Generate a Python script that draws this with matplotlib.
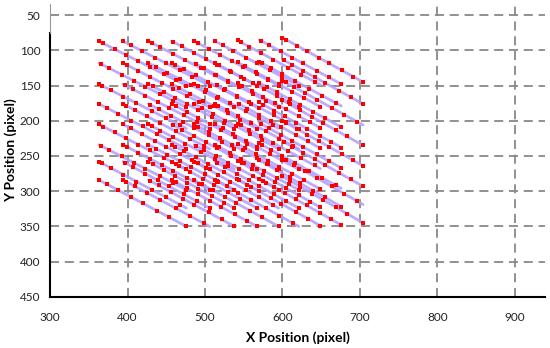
import numpy as np
import matplotlib
matplotlib.use("Agg")
import matplotlib.pyplot as plt

plt.rcParams['font.family'] = ['Lato', 'DejaVu Sans']

# start of each track column (x) and row (y), in pixels
col_x0 = [363, 394, 427, 457, 486, 513, 542, 570, 600]
col_y_shift = [0, 0, 0, 0, 0, 0, -1, -2, -5]
col_dx = [113, 112, 111, 110, 109, 108, 107, 106, 104]
row_y0 = [87, 118, 148, 176, 205, 234, 258, 284]
row_dy = [63, 63, 63, 64, 64, 64, 66, 66]

# positions of the tracked points along each track (fraction of the track)
dot_patterns = [
    [0.0, 0.05, 0.18, 0.31, 0.45, 0.58, 0.74, 0.88, 1.0],
    [0.0, 0.09, 0.22, 0.37, 0.50, 0.66, 0.80, 1.0],
    [0.0, 0.04, 0.14, 0.28, 0.43, 0.61, 0.77, 0.93],
    [0.02, 0.12, 0.26, 0.40, 0.53, 0.70, 0.85, 1.0],
]

x_ticks = [300, 400, 500, 600, 700, 800, 900]
y_ticks = [50, 100, 150, 200, 250, 300, 350, 400, 450]

fig = plt.figure(figsize=(5.5, 3.48), dpi=100)
ax = fig.add_axes([0.091, 0.147, 0.9, 0.842])

for r, y0 in enumerate(row_y0):
    for c, x0 in enumerate(col_x0):
        ys = y0 + col_y_shift[c]
        xe = x0 + col_dx[c]
        ye = ys + row_dy[r]
        ax.plot([x0, xe], [ys, ye], color='#b09cff', lw=2.0, alpha=0.85,
                solid_capstyle='round', zorder=3)
        f = np.array(dot_patterns[(r * 3 + c) % 4])
        ax.plot(x0 + f * (xe - x0), ys + f * (ye - ys), 's', color='#ff0000',
                ms=2.6, mew=0, zorder=4)

ax.set_xlim(300, 939)
ax.set_ylim(450, 34)
ax.set_xticks(x_ticks)
ax.set_yticks(y_ticks)
ax.tick_params(length=0, labelsize=8.5, colors='#222222')
ax.tick_params(axis='x', pad=11)
ax.tick_params(axis='y', pad=7)

ax.grid(True, color='#888888', lw=1.3, dashes=(5, 3.2))
ax.set_axisbelow(True)

for s in ['top', 'right']:
    ax.spines[s].set_visible(False)
ax.spines['bottom'].set_linewidth(1.5)
ax.spines['left'].set_linewidth(1.5)
ax.spines['left'].set_bounds(450, 76)
ax.plot([300, 300], [34, 76], color='#999999', lw=0.8, clip_on=False, zorder=5)

ax.set_xlabel('X Position (pixel)', fontsize=10, fontweight='bold', labelpad=6)
ax.set_ylabel('Y Position (pixel)', fontsize=10, fontweight='bold')
ax.yaxis.set_label_coords(-0.066, 0.5)

fig.savefig('out.png', dpi=100)
